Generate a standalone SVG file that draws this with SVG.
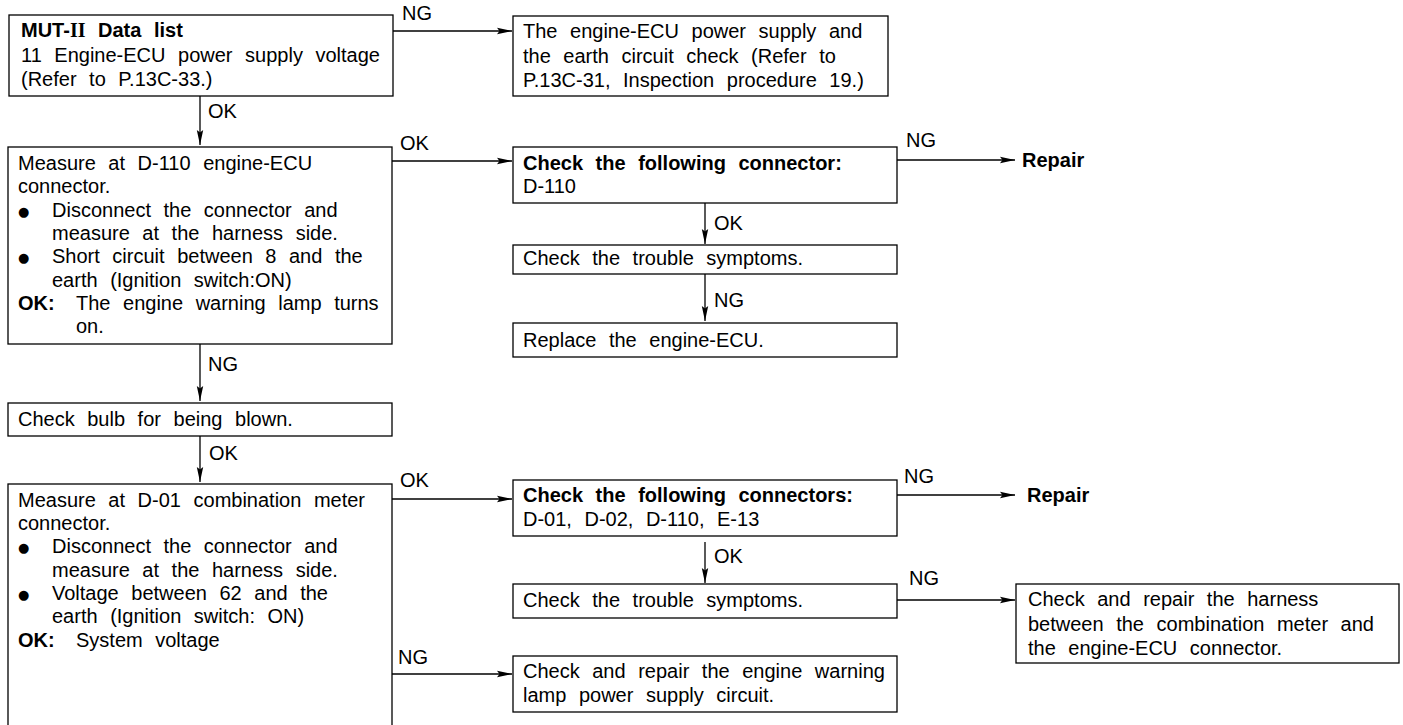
<svg xmlns="http://www.w3.org/2000/svg" width="1403" height="725" viewBox="0 0 1403 725">
<style>
.box{fill:#fff;stroke:#000;stroke-width:1.3}
text{font-family:"Liberation Sans",Arial,sans-serif;font-size:20px;fill:#000;word-spacing:7px}
.b{font-weight:bold}
.rn{font-family:"Liberation Serif","Times New Roman",serif;font-weight:bold}
.bl{font-family:"DejaVu Sans",sans-serif;font-size:13px;word-spacing:0}
.conn line{stroke:#000;stroke-width:1.3;fill:none}
</style>
<defs>
<marker id="ah" viewBox="-17 -4 18 8" refX="0" refY="0" markerWidth="18" markerHeight="8" markerUnits="userSpaceOnUse" orient="auto">
<path d="M0,0 L-15,-3.2 L-12.5,0 L-15,3.2 Z" fill="#000"/>
</marker>
</defs>
<rect width="1403" height="725" fill="#fff"/>

<g id="n1">
<rect class="box" x="9" y="15" width="384" height="81"/>
<text x="21" y="37" class="b">MUT-<tspan class="rn">II</tspan> Data list</text>
<text x="21" y="62">11 Engine-ECU power supply voltage</text>
<text x="21" y="86">(Refer to P.13C-33.)</text>
</g>

<g id="n2">
<rect class="box" x="513" y="16" width="375" height="80"/>
<text x="523" y="38">The engine-ECU power supply and</text>
<text x="523" y="63">the earth circuit check (Refer to</text>
<text x="523" y="87">P.13C-31, Inspection procedure 19.)</text>
</g>

<g id="n3">
<rect class="box" x="8" y="147" width="384" height="197"/>
<text x="18" y="170">Measure at D-110 engine-ECU</text>
<text x="18" y="193">connector.</text>
<text x="18" y="216" class="bl">●</text>
<text x="52" y="217">Disconnect the connector and</text>
<text x="52" y="240">measure at the harness side.</text>
<text x="18" y="262" class="bl">●</text>
<text x="52" y="263">Short circuit between 8 and the</text>
<text x="52" y="287">earth (Ignition switch:ON)</text>
<text x="18" y="310" class="b">OK:</text>
<text x="76" y="310">The engine warning lamp turns</text>
<text x="76" y="333">on.</text>
</g>

<g id="n4">
<rect class="box" x="513" y="147" width="384" height="56"/>
<text x="523" y="170" class="b">Check the following connector:</text>
<text x="523" y="193">D-110</text>
</g>

<g id="n5">
<text x="1022" y="167" class="b">Repair</text>
</g>

<g id="n6">
<rect class="box" x="513" y="245" width="384" height="29"/>
<text x="523" y="265">Check the trouble symptoms.</text>
</g>

<g id="n7">
<rect class="box" x="513" y="323" width="384" height="34"/>
<text x="523" y="347">Replace the engine-ECU.</text>
</g>

<g id="n8">
<rect class="box" x="8" y="403" width="384" height="33"/>
<text x="18" y="426">Check bulb for being blown.</text>
</g>

<g id="n9">
<rect class="box" x="8" y="484" width="384" height="260"/>
<text x="18" y="507">Measure at D-01 combination meter</text>
<text x="18" y="530">connector.</text>
<text x="18" y="552" class="bl">●</text>
<text x="52" y="553">Disconnect the connector and</text>
<text x="52" y="577">measure at the harness side.</text>
<text x="18" y="599" class="bl">●</text>
<text x="52" y="600">Voltage between 62 and the</text>
<text x="52" y="623">earth (Ignition switch: ON)</text>
<text x="18" y="647" class="b">OK:</text>
<text x="76" y="647">System voltage</text>
</g>

<g id="n10">
<rect class="box" x="513" y="480" width="384" height="56"/>
<text x="523" y="502" class="b">Check the following connectors:</text>
<text x="523" y="526">D-01, D-02, D-110, E-13</text>
</g>

<g id="n11">
<text x="1027" y="502" class="b">Repair</text>
</g>

<g id="n12">
<rect class="box" x="513" y="584" width="384" height="34"/>
<text x="523" y="607">Check the trouble symptoms.</text>
</g>

<g id="n13">
<rect class="box" x="1016" y="584" width="383" height="79"/>
<text x="1028" y="606">Check and repair the harness</text>
<text x="1028" y="631">between the combination meter and</text>
<text x="1028" y="655">the engine-ECU connector.</text>
</g>

<g id="n14">
<rect class="box" x="513" y="656" width="384" height="56"/>
<text x="523" y="678">Check and repair the engine warning</text>
<text x="523" y="702">lamp power supply circuit.</text>
</g>

<g id="connectors" class="conn">
<line x1="393" y1="31" x2="512" y2="31" marker-end="url(#ah)"/>
<text x="402" y="20">NG</text>
<line x1="200" y1="96" x2="200" y2="145" marker-end="url(#ah)"/>
<text x="208" y="118">OK</text>
<line x1="392" y1="161" x2="512" y2="161" marker-end="url(#ah)"/>
<text x="400" y="150">OK</text>
<line x1="897" y1="160" x2="1015" y2="160" marker-end="url(#ah)"/>
<text x="906" y="147">NG</text>
<line x1="705" y1="203" x2="705" y2="244" marker-end="url(#ah)"/>
<text x="714" y="230">OK</text>
<line x1="705" y1="274" x2="705" y2="321" marker-end="url(#ah)"/>
<text x="714" y="307">NG</text>
<line x1="200" y1="344" x2="200" y2="401" marker-end="url(#ah)"/>
<text x="208" y="371">NG</text>
<line x1="200" y1="436" x2="200" y2="482" marker-end="url(#ah)"/>
<text x="209" y="460">OK</text>
<line x1="392" y1="499" x2="512" y2="499" marker-end="url(#ah)"/>
<text x="400" y="487">OK</text>
<line x1="897" y1="495" x2="1015" y2="495" marker-end="url(#ah)"/>
<text x="904" y="483">NG</text>
<line x1="705" y1="542" x2="705" y2="583" marker-end="url(#ah)"/>
<text x="714" y="563">OK</text>
<line x1="897" y1="600" x2="1015" y2="600" marker-end="url(#ah)"/>
<text x="909" y="585">NG</text>
<line x1="392" y1="674" x2="512" y2="674" marker-end="url(#ah)"/>
<text x="398" y="664">NG</text>
</g>
</svg>
